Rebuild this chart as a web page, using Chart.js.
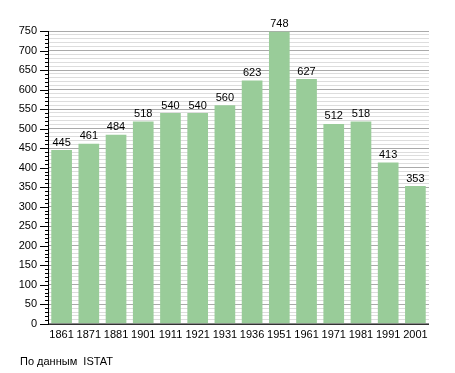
<!DOCTYPE html>
<html>
<head>
<meta charset="utf-8">
<script src="https://cdn.jsdelivr.net/npm/chart.js@4.4.1/dist/chart.umd.min.js"></script>
<style>
    body { margin:0; background:#fff; }
    #wrap { position:relative; width:455px; height:373px; }
    #note { position:absolute; left:20px; top:355px; font:11px "Liberation Sans", Arial, sans-serif; color:#000; }
</style>
</head>
<body>
<div id="wrap">
    <canvas id="chart" width="455" height="373"></canvas>
    <div id="note">По данным&nbsp; ISTAT</div>
</div>
<script>
const years = ["1861","1871","1881","1901","1911","1921","1931","1936","1951","1961","1971","1981","1991","2001"];
const population = [445,461,484,518,540,540,560,623,748,627,512,518,413,353];

const FONT = "11px 'Liberation Sans', Arial, sans-serif";

// value labels above the bars + y axis tick marks
const extras = {
    id:"extras",
    afterDatasetsDraw(chart){
        const ctx = chart.ctx;
        const meta = chart.getDatasetMeta(0);
        ctx.save();
        ctx.font = FONT;
        ctx.fillStyle = "#000";
        ctx.textAlign = "center";
        ctx.textBaseline = "bottom";
        meta.data.forEach((bar,i)=>{
            ctx.fillText(population[i], bar.x, bar.y - 2);
        });

        const y = chart.scales.y;
        const left = chart.chartArea.left;
        ctx.strokeStyle = "#000";
        ctx.lineWidth = 1;
        ctx.beginPath();
        y.ticks.forEach(t=>{
            const py = Math.round(y.getPixelForValue(t.value)) + 0.5;
            const len = t.value % 50 === 0 ? 8 : 3;
            ctx.moveTo(left - len, py);
            ctx.lineTo(left, py);
        });
        ctx.moveTo(left + 0.5, chart.chartArea.top);
        ctx.lineTo(left + 0.5, chart.chartArea.bottom + 1);
        ctx.moveTo(left, chart.chartArea.bottom + 0.5);
        ctx.lineTo(chart.chartArea.right, chart.chartArea.bottom + 0.5);
        ctx.stroke();
        ctx.restore();
    }
};

new Chart(document.getElementById("chart"),{
    type:"bar",
    data:{
        labels:years,
        datasets:[{
            data:population,
            backgroundColor:"#99cc99",
            borderWidth:0,
            barPercentage:0.76,
            categoryPercentage:1
        }]
    },
    options:{
        responsive:false,
        animation:false,
        layout:{ padding:{ top:31, right:26, bottom:26, left:0 } },
        plugins:{
            legend:{ display:false },
            tooltip:{ enabled:false }
        },
        scales:{
            x:{
                grid:{ display:false, drawTicks:false },
                border:{ display:false },
                ticks:{ color:"#000", font:{ family:"'Liberation Sans', Arial, sans-serif", size:11 }, padding:5, maxRotation:0, autoSkip:false }
            },
            y:{
                min:0,
                max:750,
                afterFit(scale){ scale.width = 48; },
                grid:{
                    drawTicks:false,
                    color:c => c.tick.value % 50 === 0 ? "#aaaaaa" : "#dddddd"
                },
                border:{ display:false },
                ticks:{
                    stepSize:10,
                    autoSkip:false,
                    color:"#000",
                    padding:11,
                    font:{ family:"'Liberation Sans', Arial, sans-serif", size:11 },
                    callback:v => v % 50 === 0 ? v : ""
                }
            }
        }
    },
    plugins:[extras]
});
</script>
</body>
</html>
